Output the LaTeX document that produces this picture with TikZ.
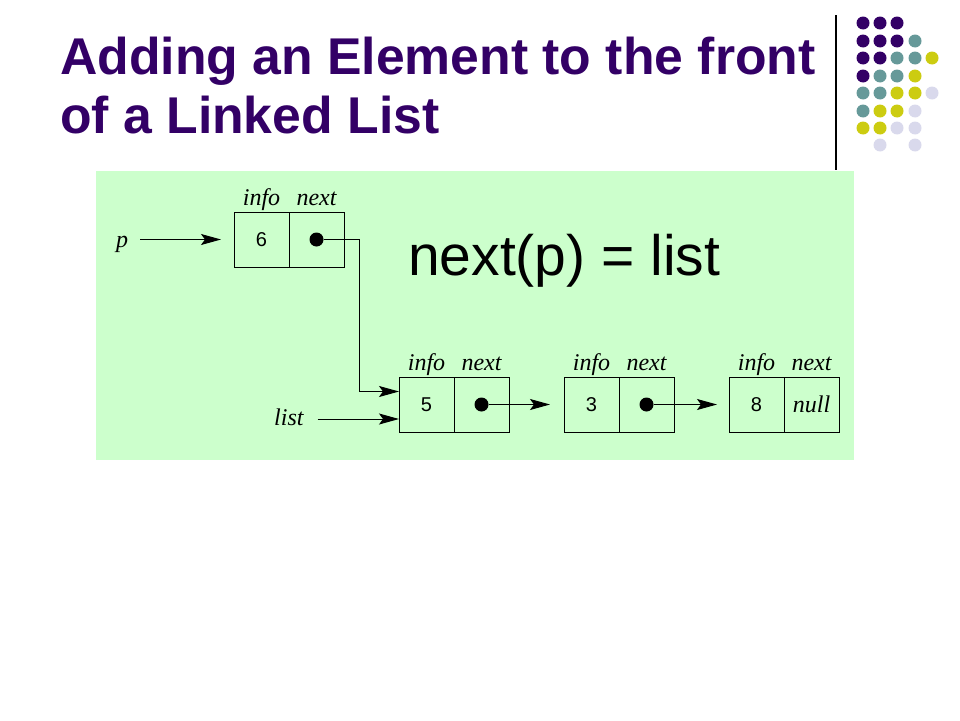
\documentclass[tikz,border=0pt]{standalone}
\usepackage{fontspec}
\setmainfont{Liberation Sans}
\newfontfamily\timesfont{Liberation Serif}
\usepackage{xcolor}
\usetikzlibrary{positioning,arrows.meta}
\definecolor{titreviolet}{RGB}{51,0,102}
\definecolor{psarcelle}{RGB}{102,153,153}
\definecolor{pjaune}{RGB}{204,204,17}
\definecolor{plavande}{RGB}{217,217,236}
\definecolor{fondvert}{RGB}{204,255,204}

\begin{document}
\begin{tikzpicture}[x=1pt,y=-1pt]
% Styles (MODIFIABLES)
\tikzstyle{fleche}=[-{Stealth[length=20pt,width=11pt,inset=4pt]},line width=1pt]
\tikzstyle{case}=[draw,line width=1pt,minimum width=55pt,minimum height=55pt,inner sep=0pt,outer sep=0pt,font=\fontsize{20}{22}\selectfont]
\tikzstyle{pointeur}=[fill=black,circle,minimum size=14pt,inner sep=0pt]
\tikzstyle{etiquette}=[anchor=base,inner sep=0pt,font=\timesfont\itshape\fontsize{24}{26}\selectfont]
\tikzstyle{nomvar}=[anchor=base west,inner sep=0pt,font=\timesfont\itshape\fontsize{24}{26}\selectfont]
\tikzstyle{titre}=[anchor=base west,inner sep=0pt,text=titreviolet,font=\bfseries\fontsize{51.7}{60}\selectfont]
\tikzstyle{formule}=[anchor=base west,inner sep=0pt,font=\fontsize{57}{64}\selectfont]
% Dimensions (MODIFIABLES)
\def\Rayon{6.5}
\def\Ecart{55pt}
% Cadre
\useasboundingbox (0,0) rectangle (960,720);
\fill[fondvert] (96,171) rectangle (854,460);
\draw[line width=1.2pt] (836,15) -- (836,170);
% Pastilles
\fill[titreviolet] (863,23) circle (\Rayon) (880,23) circle (\Rayon) (897,23) circle (\Rayon)
  (863,41) circle (\Rayon) (880,41) circle (\Rayon) (897,41) circle (\Rayon)
  (863,58) circle (\Rayon) (880,58) circle (\Rayon) (863,76) circle (\Rayon);
\fill[psarcelle] (915,41) circle (\Rayon) (897,58) circle (\Rayon) (915,58) circle (\Rayon)
  (880,76) circle (\Rayon) (897,76) circle (\Rayon) (863,93) circle (\Rayon)
  (880,93) circle (\Rayon) (863,111) circle (\Rayon);
\fill[pjaune] (932,58) circle (\Rayon) (915,76) circle (\Rayon) (897,93) circle (\Rayon)
  (915,93) circle (\Rayon) (880,111) circle (\Rayon) (897,111) circle (\Rayon)
  (863,128) circle (\Rayon) (880,128) circle (\Rayon);
\fill[plavande] (932,93) circle (\Rayon) (915,111) circle (\Rayon) (897,128) circle (\Rayon)
  (915,128) circle (\Rayon) (880,145) circle (\Rayon) (915,145) circle (\Rayon);
% Textes
\node[titre] (titreA) at (60,74) {Adding an Element to the front};
\node[titre] (titreB) at (60,133) {of a Linked List};
\node[formule] (formule) at (408,275) {next(p) = list};
% Noeuds (MODIFIABLES)
\node[case] (Pi) at (261.5,239.5) {6};
\node[case,right=0pt of Pi] (Pn) {};
\node[case] (Ai) at (426.5,404.5) {5};
\node[case,right=0pt of Ai] (An) {};
\node[case,right=\Ecart of An] (Bi) {3};
\node[case,right=0pt of Bi] (Bn) {};
\node[case,right=\Ecart of Bn] (Ci) {8};
\node[case,right=0pt of Ci,font=\timesfont\itshape\fontsize{24}{26}\selectfont] (Cn) {null};
\node[etiquette] (Pie) at ([yshift=7pt]Pi.north) {info};
\node[etiquette] (Pne) at ([yshift=7pt]Pn.north) {next};
\node[etiquette] (Aie) at ([yshift=7pt]Ai.north) {info};
\node[etiquette] (Ane) at ([yshift=7pt]An.north) {next};
\node[etiquette] (Bie) at ([yshift=7pt]Bi.north) {info};
\node[etiquette] (Bne) at ([yshift=7pt]Bn.north) {next};
\node[etiquette] (Cie) at ([yshift=7pt]Ci.north) {info};
\node[etiquette] (Cne) at ([yshift=7pt]Cn.north) {next};
\node[pointeur] (Pd) at (Pn.center) {};
\node[pointeur] (Ad) at (An.center) {};
\node[pointeur] (Bd) at (Bn.center) {};
\node[nomvar] (p) at (116,247) {p};
\node[nomvar] (liste) at (274,425) {list};
\coordinate (pdep) at ([xshift=12pt]p.east);
\coordinate (ldep) at ([xshift=14pt]liste.east);
\coordinate (Ah) at ([yshift=13pt]Ai.west);
\coordinate (Ab) at ([yshift=-14.5pt]Ai.west);
% Arcs (MODIFIABLES)
\draw[fleche,shorten >=13pt] (pdep |- Pi.west) -- (Pi.west);
\draw[fleche] (Pd) -- ++(42.5,0) |- (Ah);
\draw[fleche] (ldep |- Ab) -- (Ab);
\draw[fleche,shorten >=14pt] (Ad) -- (Bi.west);
\draw[fleche,shorten >=12pt] (Bd) -- (Ci.west);
\end{tikzpicture}
\end{document}
